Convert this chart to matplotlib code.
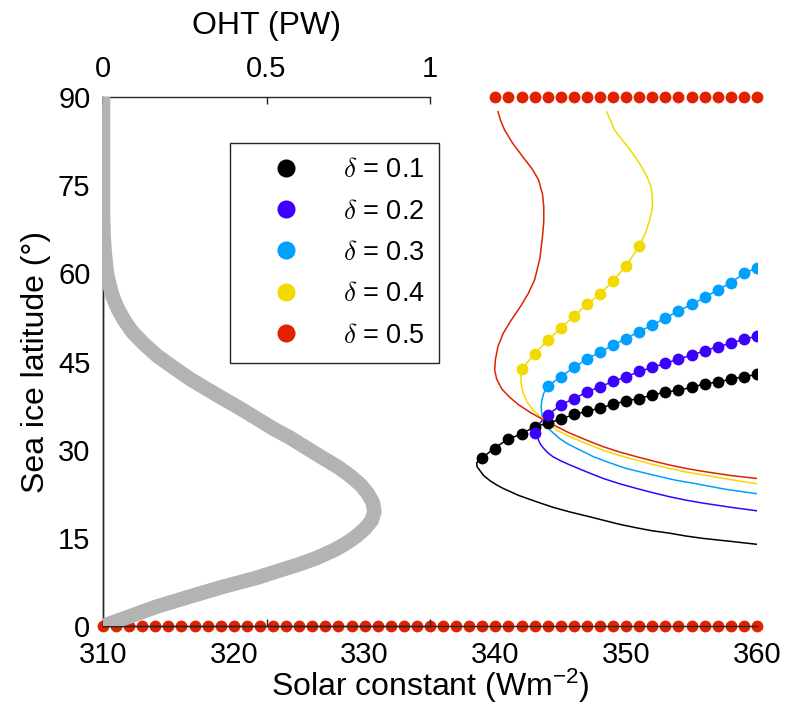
import numpy as np
import matplotlib
matplotlib.use('Agg')
import matplotlib.pyplot as plt

plt.rcParams['font.family'] = ['Liberation Sans', 'DejaVu Sans']
plt.rcParams['mathtext.fontset'] = 'cm'

# colours for delta = 0.1 .. 0.5
deltas = [0.1, 0.2, 0.3, 0.4, 0.5]
colors = ['#000000', '#3c00ff', '#00a0ff', '#f2da00', '#e02200']

# stable equilibria (dots)
S_d1 = [339, 340, 341, 342, 343, 344, 345, 346, 347, 348, 349, 350, 351, 352, 353, 354, 355, 356, 357, 358, 359, 360]
lat_d1 = [28.6, 30.1, 31.8, 32.7, 33.9, 34.5, 35.2, 36.0, 36.5, 37.1, 37.7, 38.3, 38.7, 39.3, 39.8, 40.1, 40.6, 41.2, 41.5, 42.0, 42.4, 42.8]
S_d2 = [343, 344, 345, 346, 347, 348, 349, 350, 351, 352, 353, 354, 355, 356, 357, 358, 359, 360]
lat_d2 = [32.8, 35.9, 37.6, 38.7, 39.8, 40.7, 41.6, 42.4, 43.3, 44.0, 44.7, 45.4, 46.1, 46.8, 47.5, 48.1, 48.8, 49.3]
S_d3 = [344, 345, 346, 347, 348, 349, 350, 351, 352, 353, 354, 355, 356, 357, 358, 359, 360]
lat_d3 = [40.8, 42.4, 44.0, 45.4, 46.6, 47.8, 48.9, 50.1, 51.2, 52.4, 53.6, 54.7, 55.9, 57.2, 58.4, 60.0, 60.9]
S_d4 = [342, 343, 344, 345, 346, 347, 348, 349, 350, 351]
lat_d4 = [43.7, 46.3, 48.6, 50.7, 52.7, 54.7, 56.5, 58.7, 61.3, 64.6]

# ice free / snowball dots (delta = 0.5 drawn on top)
S_top = list(range(340, 361))
S_bot = list(range(310, 361))

# full equilibrium curves (thin lines)
S_c1 = [360, 359, 358, 357, 356, 355, 354, 353, 352, 351, 350, 349, 348, 347, 346, 345, 344, 343, 342, 341, 340,
        339.5, 339, 338.7, 338.57, 338.6, 338.8, 339.1, 339.6, 340.1, 340.6, 341.8, 343.2, 344.4, 345.7, 347,
        348.25, 349.5, 350.8, 352, 353.3, 354.6, 355.9, 358, 360]
lat_c1 = [42.8, 42.4, 42.0, 41.5, 41.2, 40.6, 40.1, 39.8, 39.3, 38.7, 38.3, 37.7, 37.1, 36.5, 36.0, 35.2, 34.5, 33.9, 32.7, 31.8, 30.4,
          29.5, 28.6, 28.2, 27.7, 27.1, 26.5, 25.6, 24.7, 24.0, 23.4, 22.2, 21.1, 20.2, 19.4, 18.7,
          18.0, 17.3, 16.7, 16.2, 15.8, 15.3, 14.9, 14.4, 13.9]
S_c2 = [360, 359, 358, 357, 356, 355, 354, 353, 352, 351, 350, 349, 348, 347, 346, 345, 344,
        343.6, 343.3, 343.15, 343.2, 343.3, 343.45, 343.7, 344.0, 344.4, 345.0, 345.7, 347, 348.25, 349.5,
        350.8, 352, 353.3, 354.6, 355.9, 358, 360]
lat_c2 = [49.3, 48.8, 48.1, 47.5, 46.8, 46.1, 45.4, 44.7, 44.0, 43.3, 42.4, 41.6, 40.7, 39.8, 38.7, 37.6, 35.9,
          35.0, 34.2, 33.0, 32.2, 31.6, 30.9, 30.2, 29.5, 28.8, 28.1, 27.4, 26.2, 25.1, 24.2,
          23.4, 22.7, 22.0, 21.4, 20.9, 20.2, 19.6]
S_c3 = [360, 359, 358, 357, 356, 355, 354, 353, 352, 351, 350, 349, 348, 347, 346, 345, 344,
        343.7, 343.55, 343.5, 343.55, 343.66, 343.9, 344.2, 344.9, 345.6, 346.5, 347.5, 348.7, 350.0, 351.3,
        352.6, 353.8, 355.1, 357.5, 360]
lat_c3 = [60.9, 60.0, 58.4, 57.2, 55.9, 54.7, 53.6, 52.4, 51.2, 50.1, 48.9, 47.8, 46.6, 45.4, 44.0, 42.4, 40.8,
          39.6, 38.4, 37.3, 36.1, 35.0, 34.1, 33.3, 31.9, 30.9, 29.9, 28.8, 27.8, 26.8, 26.1,
          25.4, 24.8, 24.3, 23.3, 22.5]
S_c4 = [348.5, 348.8, 349.1, 349.8, 350.5, 351.1, 351.6, 351.9, 352.0, 352.0, 351.8, 351.5,
        351, 350, 349, 348, 347, 346, 345, 344, 343, 342,
        341.95, 341.97, 342.1, 342.4, 342.9, 343.5, 343.9, 344.7, 345.7, 347, 348.25, 349.5, 350.8,
        352, 353.3, 354.6, 355.9, 358, 360]
lat_c4 = [87.5, 86.0, 84.4, 82.4, 80.4, 78.4, 76.4, 74.7, 73.0, 71.0, 69.1, 67.0,
          64.6, 61.3, 58.7, 56.5, 54.7, 52.7, 50.7, 48.6, 46.3, 43.7,
          42.6, 41.3, 39.8, 38.2, 36.7, 35.5, 34.8, 33.3, 32.2, 31.0, 29.9, 29.0, 28.2,
          27.5, 26.8, 26.2, 25.7, 24.9, 24.2]
S_c5 = [340.2, 340.4, 340.7, 341.3, 342.1, 342.8, 343.3, 343.6, 343.7, 343.7, 343.6, 343.4, 343.0,
        342.5, 341.9, 341.2, 340.6, 340.2, 340.0, 339.95, 340.1, 340.5, 341.1, 341.8, 342.7, 343.9,
        345.7, 347.0, 348.25, 349.5, 350.8, 352.0, 353.3, 354.6, 355.9, 358, 360]
lat_c5 = [87.5, 86.0, 84.4, 82.2, 79.8, 77.8, 75.9, 73.5, 71.3, 68.8, 66.2, 62.5, 58.9,
          56.5, 54.3, 52.0, 49.8, 47.6, 45.3, 43.5, 42.0, 40.3, 38.9, 37.6, 36.3, 34.8,
          32.8, 31.6, 30.5, 29.6, 28.8, 28.1, 27.4, 26.8, 26.3, 25.6, 25.1]

# ocean heat transport profile
oht_lat = [90, 80, 70, 66, 63, 60, 58, 56, 54, 52, 50, 48, 46, 44, 42, 40.3, 38.6, 37, 35.3, 33.6,
           32, 30.2, 28.5, 27, 25.5, 24, 22.5, 21, 19.5, 18, 16.5, 15.3, 14.3, 13, 11.5, 10.5,
           9.8, 8.2, 6.7, 5, 3.3, 1.6, 0]
oht_pw = [0.0, 0.0, 0.0, 0.002, 0.006, 0.012, 0.02, 0.03, 0.045, 0.065, 0.09, 0.125, 0.165, 0.215, 0.267, 0.318, 0.37, 0.42, 0.47, 0.52,
          0.573, 0.625, 0.675, 0.72, 0.757, 0.788, 0.81, 0.825, 0.83, 0.822, 0.80, 0.775, 0.75, 0.71, 0.65, 0.60,
          0.56, 0.47, 0.368, 0.265, 0.164, 0.08, 0.0]

fig = plt.figure(figsize=(7.85, 7.27), dpi=100)
ax = fig.add_axes([0.1312, 0.1389, 0.8331, 0.7277])

curves = [(S_c1, lat_c1), (S_c2, lat_c2), (S_c3, lat_c3), (S_c4, lat_c4), (S_c5, lat_c5)]
dots = [(S_d1, lat_d1), (S_d2, lat_d2), (S_d3, lat_d3), (S_d4, lat_d4)]
for i in range(5):
    ax.plot(curves[i][0], curves[i][1], color=colors[i], lw=1.1, zorder=2)
for i in range(4):
    ax.plot(dots[i][0], dots[i][1], 'o', color=colors[i], ms=8.5, mec='none', zorder=3)
ax.plot(S_top, [90] * len(S_top), 'o', color=colors[4], ms=8.5, mec='none', zorder=3, clip_on=False)
ax.plot(S_bot, [0] * len(S_bot), 'o', color=colors[4], ms=8.5, mec='none', zorder=3, clip_on=False)

ax.set_xlim(310, 360)
ax.set_ylim(0, 90)
ax.set_xticks([310, 320, 330, 340, 350, 360])
ax.set_yticks([0, 15, 30, 45, 60, 75, 90])
ax.tick_params(length=0, labelsize=21)
ax.tick_params(axis='x', pad=11)
ax.tick_params(axis='y', pad=9)
for s in ['top', 'right']:
    ax.spines[s].set_visible(False)
for s in ['left', 'bottom']:
    ax.spines[s].set_color('#262626')
    ax.spines[s].set_linewidth(1.0)
    ax.spines[s].set_zorder(4)
ax.set_xlabel(r'Solar constant (Wm$\mathregular{^{-2}}$)', fontsize=23, labelpad=-2)
ax.set_ylabel('Sea ice latitude (°)', fontsize=23, labelpad=5)

hs = [ax.plot([], [], 'o', color=c, ms=13, mec='none')[0] for c in colors]
leg = ax.legend(hs, [r'$\delta$ = %.1f' % d for d in deltas], loc='upper left',
                bbox_to_anchor=(0.194, 0.913), borderaxespad=0, fontsize=19.5,
                frameon=True, fancybox=False, edgecolor='#262626', framealpha=1,
                handlelength=3.1, handletextpad=0.55, labelspacing=0.57,
                borderpad=0.52)
leg.get_frame().set_linewidth(1.0)
leg.set_zorder(5)

# ocean heat transport on its own top axis
ax2 = fig.add_axes([0.1312, 0.1389, 0.4166, 0.7277])
ax2.patch.set_visible(False)
ax2.plot(oht_pw, oht_lat, color='#b3b3b3', lw=10.5, solid_capstyle='butt', zorder=6)
ax2.set_xlim(0, 1)
ax2.set_ylim(0, 90)
ax2.set_yticks([])
ax2.spines['right'].set_visible(False)
for s in ['top', 'bottom', 'left']:
    ax2.spines[s].set_color('#262626')
    ax2.spines[s].set_linewidth(1.0)
ax2.xaxis.set_ticks_position('both')
ax2.xaxis.set_label_position('top')
ax2.set_xticks([0, 0.5, 1])
ax2.set_xticklabels(['0', '0.5', '1'])
ax2.tick_params(axis='x', direction='in', length=5, width=1, color='#262626',
                labeltop=True, labelbottom=False, labelsize=21, pad=10)
ax2.set_xlabel('OHT (PW)', fontsize=23, labelpad=15)

fig.savefig('out.png', dpi=100)
